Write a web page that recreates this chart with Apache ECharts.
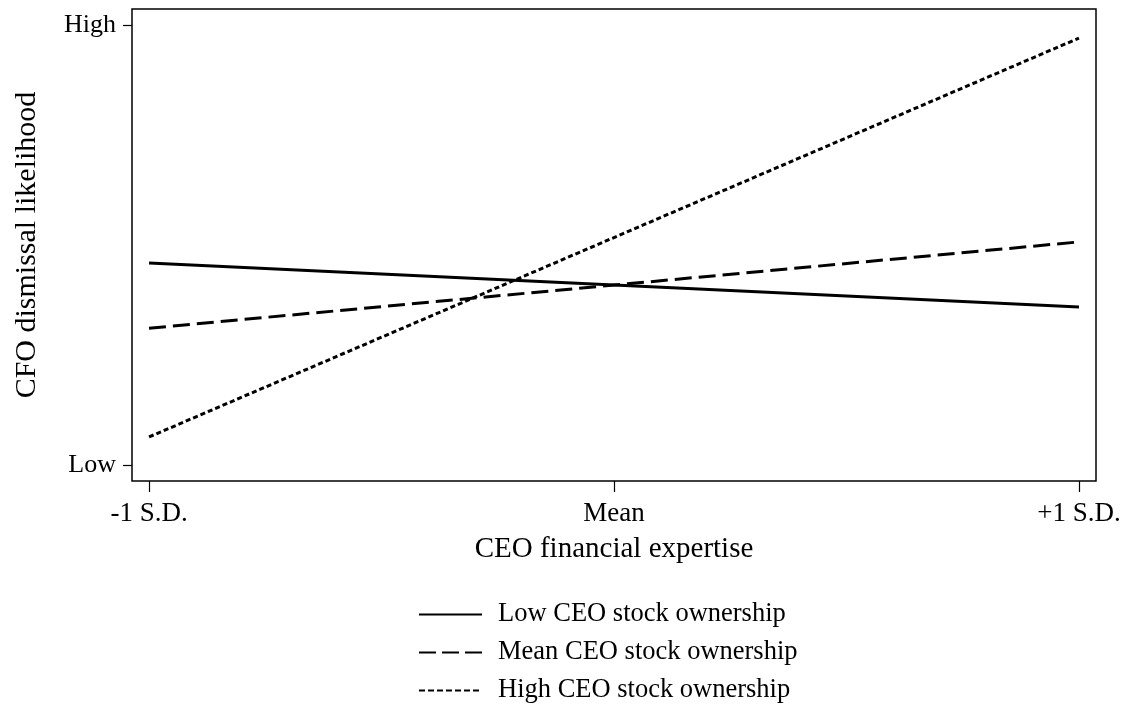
<!DOCTYPE html>
<html>
<head>
<meta charset="utf-8">
<script src="https://cdn.jsdelivr.net/npm/echarts@6/dist/echarts.min.js"></script>
<style>
html,body{margin:0;padding:0;background:#fff;}
#chart{width:1125px;height:706px;}
</style>
</head>
<body>
<div id="chart"></div>
<script>
// Data
var xValues = [-1, 0, 1];
var xTickLabels = ['-1 S.D.', 'Mean', '+1 S.D.'];
var yTickValues = [0, 1];
var yTickLabels = ['Low', 'High'];
var seriesNames = ['Low CEO stock ownership', 'Mean CEO stock ownership', 'High CEO stock ownership'];
var lowOwnership = [0.459, 0.409, 0.359];
var meanOwnership = [0.311, 0.409, 0.507];
var highOwnership = [0.064, 0.517, 0.970];

var FONT = "'Liberation Serif', 'Times New Roman', serif";
function pairs(vals) { return xValues.map(function (x, i) { return [x, vals[i]]; }); }

var chart = echarts.init(document.getElementById('chart'), null, {renderer: 'canvas'});
var hiddenSymbol = {color: 'rgba(0,0,0,0)', borderColor: 'rgba(0,0,0,0)', borderWidth: 0, opacity: 0};
var option = {
  animation: false,
  backgroundColor: '#fff',
  grid: {
    left: 132, right: 29, top: 9, bottom: 225,
    show: true, borderColor: '#000', borderWidth: 1.5, backgroundColor: 'transparent'
  },
  xAxis: {
    type: 'value',
    min: -1.0366, max: 1.0366,
    axisLine: {show: false, onZero: false},
    splitLine: {show: false},
    axisTick: {show: true, inside: false, length: 11, lineStyle: {color: '#000', width: 1.2}, customValues: xValues},
    axisLabel: {
      customValues: xValues,
      margin: 19,
      color: '#000', fontFamily: FONT, fontSize: 27,
      formatter: function (v) { var i = xValues.indexOf(v); return i >= 0 ? xTickLabels[i] : ''; }
    },
    name: 'CEO financial expertise',
    nameLocation: 'middle',
    nameGap: 54,
    nameTextStyle: {color: '#000', fontFamily: FONT, fontSize: 29}
  },
  yAxis: {
    type: 'value',
    min: -0.036, max: 1.036,
    axisLine: {show: false, onZero: false},
    splitLine: {show: false},
    axisTick: {show: true, inside: false, length: 9, lineStyle: {color: '#000', width: 1.2}, customValues: yTickValues},
    axisLabel: {
      customValues: yTickValues,
      margin: 16,
      color: '#000', fontFamily: FONT, fontSize: 26,
      formatter: function (v) { var i = yTickValues.indexOf(v); return i >= 0 ? yTickLabels[i] : ''; }
    },
    name: 'CFO dismissal likelihood',
    nameLocation: 'middle',
    nameGap: 90,
    nameTextStyle: {color: '#000', fontFamily: FONT, fontSize: 30}
  },
  legend: {
    orient: 'vertical',
    left: 418, top: 601,
    padding: 0,
    itemWidth: 63, itemHeight: 14, itemGap: 11,
    itemStyle: hiddenSymbol,
    textStyle: {color: '#000', fontFamily: FONT, fontSize: 26.5, lineHeight: 26, padding: [0, 0, 0, 11]},
    data: [
      {name: seriesNames[0], itemStyle: hiddenSymbol, lineStyle: {width: 2, type: 'solid'}},
      {name: seriesNames[1], itemStyle: hiddenSymbol, lineStyle: {width: 2, type: [17, 6]}},
      {name: seriesNames[2], itemStyle: hiddenSymbol, lineStyle: {width: 2, type: [6, 3]}}
    ]
  },
  series: [
    {name: seriesNames[0], type: 'line', data: pairs(lowOwnership), symbol: 'none',
     lineStyle: {color: '#000', width: 3, type: 'solid'}, itemStyle: {color: '#000'}},
    {name: seriesNames[1], type: 'line', data: pairs(meanOwnership), symbol: 'none',
     lineStyle: {color: '#000', width: 3, type: [17, 7]}, itemStyle: {color: '#000'}},
    {name: seriesNames[2], type: 'line', data: pairs(highOwnership), symbol: 'none',
     lineStyle: {color: '#000', width: 3, type: [5, 3]}, itemStyle: {color: '#000'}}
  ]
};
chart.setOption(option);
</script>
</body>
</html>
